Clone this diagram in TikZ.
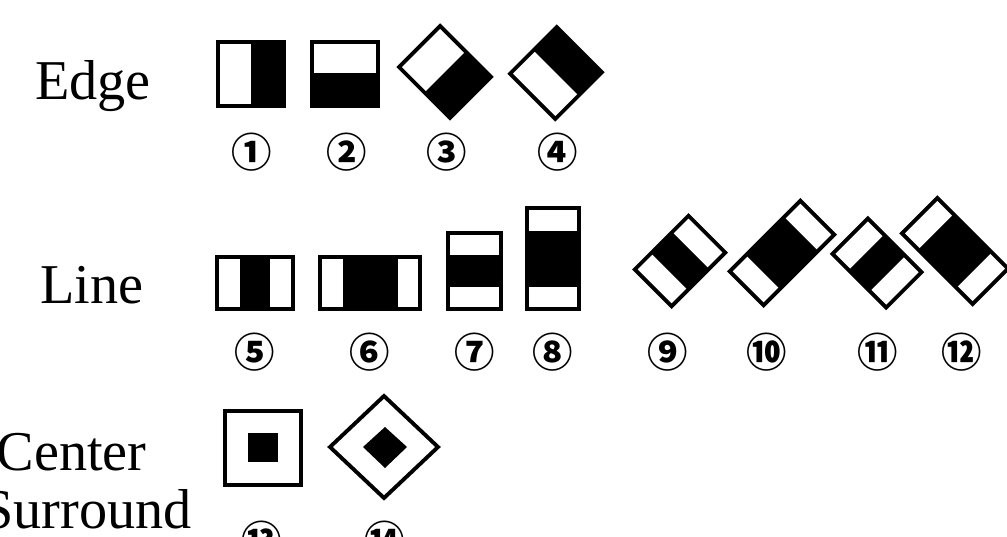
\documentclass[tikz,border=0pt]{standalone}
\usepackage{fontspec}
\setmainfont{Liberation Serif}
\newfontfamily\circfont{Noto Sans CJK JP}
\begin{document}
\begin{tikzpicture}[x=0.02cm,y=-0.02cm,
  ttl/.style={font=\fontsize{32}{34}\selectfont,inner sep=0pt},
  num/.style={font=\circfont\bfseries\fontsize{23}{23}\selectfont,inner sep=0pt},
  frame/.style={draw=black,line width=2.2pt},
  blk/.style={fill=black}]
\useasboundingbox (0,0) rectangle (1007,537);
\clip (0,0) rectangle (1007,537);
\node[ttl,anchor=base west] (edge) at (35,100) {Edge};
\node[ttl,anchor=base west] (line) at (40,303) {Line};
\node[ttl,anchor=base east] (center) at (147,470) {Center};
\node[ttl,anchor=base east] (surround) at (192,528) {Surround};

\fill[blk] (251,42) rectangle (284,106);
\draw[frame] (218,42) rectangle (284,106);
\fill[blk] (312,73) rectangle (378,106);
\draw[frame] (312,42) rectangle (378,106);
\begin{scope}[shift={(445,72)},rotate=-45]
  \fill[blk] (0,-29) rectangle (36,29);
  \draw[frame] (-36,-29) rectangle (36,29);
\end{scope}
\begin{scope}[shift={(556,73)},rotate=45]
  \fill[blk] (0,-32) rectangle (33,32);
  \draw[frame] (-33,-32) rectangle (33,32);
\end{scope}

\fill[blk] (240,257) rectangle (270,309);
\draw[frame] (217,257) rectangle (293,309);
\fill[blk] (343,257) rectangle (398,309);
\draw[frame] (320,257) rectangle (420,309);
\fill[blk] (448,255) rectangle (501,287);
\draw[frame] (448,233) rectangle (501,309);
\fill[blk] (527,231) rectangle (579,287);
\draw[frame] (527,208) rectangle (579,309);
\begin{scope}[shift={(680,261)},rotate=45]
  \fill[blk] (-15,-26) rectangle (15,26);
  \draw[frame] (-38,-26) rectangle (38,26);
\end{scope}
\begin{scope}[shift={(782,253)},rotate=45]
  \fill[blk] (-27,-24) rectangle (27,24);
  \draw[frame] (-50,-24) rectangle (50,24);
\end{scope}
\begin{scope}[shift={(877,263)},rotate=45]
  \fill[blk] (-25,-15) rectangle (25,15);
  \draw[frame] (-25,-38) rectangle (25,38);
\end{scope}
\begin{scope}[shift={(955,251)},rotate=45]
  \fill[blk] (-25,-27) rectangle (25,27);
  \draw[frame] (-25,-50) rectangle (25,50);
\end{scope}

\fill[blk] (248,433) rectangle (278,462);
\draw[frame] (225,411) rectangle (301,485);
\fill[blk] (363,447) -- (385,427) -- (407,447) -- (385,468) -- cycle;
\draw[frame] (330,447) -- (384,396) -- (438,447) -- (384,498) -- cycle;

\foreach \t/\x/\y [count=\k] in {①/252/152,②/347/152,③/447/152,④/558/152,
    ⑤/255/352,⑥/370/352,⑦/475/352,⑧/553/352,⑨/668/352,⑩/767/352,⑪/878/352,⑫/962/352,
    ⑬/262/540,⑭/385/540}
  \node[num] (n\k) at (\x,\y) {\t};
\end{tikzpicture}
\end{document}
